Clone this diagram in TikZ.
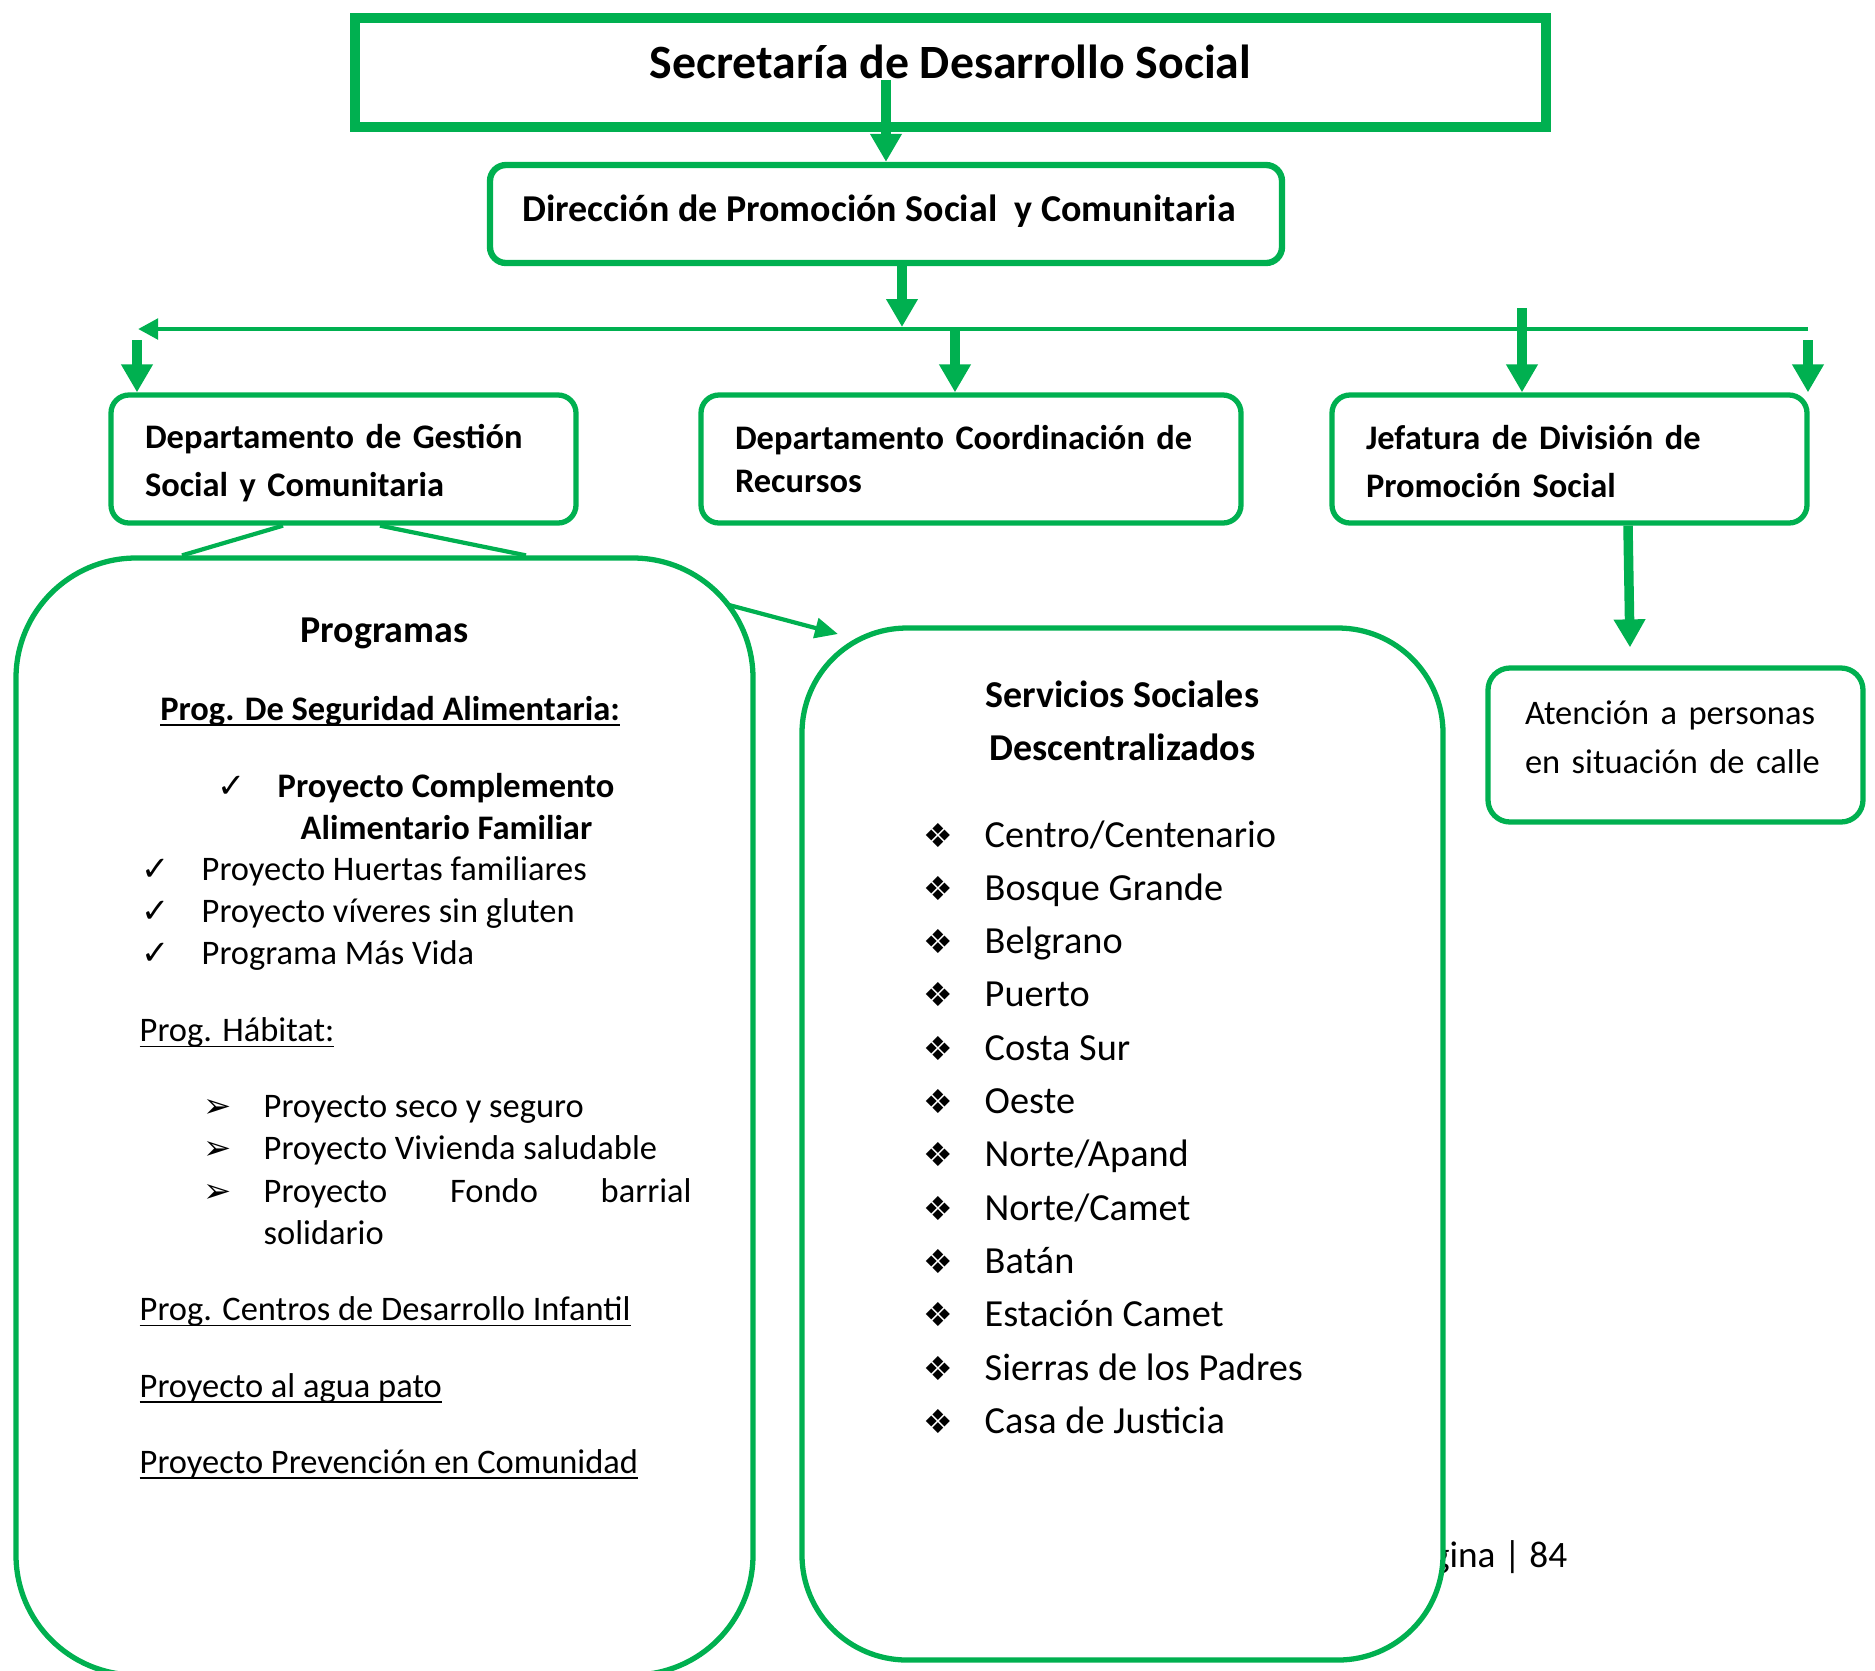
\documentclass[tikz,border=0pt]{standalone}
\usepackage{fontspec}
\setmainfont{Carlito}
\newfontfamily\dingfont{DejaVu Sans}
\usetikzlibrary{arrows.meta}
\definecolor{sdsgreen}{HTML}{00B050}
\newcommand{\fsmall}{\fontsize{9.8}{13.7}\selectfont}
\newcommand{\fbig}{\fontsize{10.8}{15.1}\selectfont}
\newcommand{\undl}[1]{\underline{\smash{#1}}}
\tikzset{
  box/.style={draw=sdsgreen, line width=1.5pt, fill=white},
  deptbox/.style={box, rounded corners=0.18cm, minimum height=1.28cm, inner xsep=0.34cm, align=left, font=\fsmall\bfseries},
  bigbox/.style={box, inner sep=0pt},
  arr/.style={draw=sdsgreen, line width=2.7pt, -{Triangle[length=2.8mm, width=3mm]}},
  busline/.style={draw=sdsgreen, line width=1.4pt, -{Triangle[length=2mm, width=2mm]}},
  link/.style={draw=sdsgreen, line width=1.2pt},
  thinarr/.style={link, -{Triangle[length=2.3mm, width=2mm]}},
  txt/.style={anchor=base west, inner sep=0pt, font=\fsmall},
  chk/.style={anchor=base west, inner sep=0pt, font=\dingfont\fontsize{9.6}{10}\selectfont},
}

\begin{document}
\begin{tikzpicture}
\useasboundingbox (0, 0) rectangle (18.75, -16.70);

\node [anchor=base east, inner sep=0pt, font=\fontsize{10.6}{12}\selectfont] (pagina) at (15.68, -15.67) {Página | 84};

\node [box, line width=2.85pt, minimum width=11.91cm, minimum height=1.09cm, text height=0.33cm, text depth=0.22cm, font=\fontsize{13.6}{16}\selectfont\bfseries] (title) at (9.505, -0.725) {Secretaría de Desarrollo Social};
\node [box, line width=1.8pt, rounded corners=0.16cm, minimum width=7.92cm, minimum height=0.98cm, text height=0.25cm, text depth=0.11cm, font=\fbig\bfseries] (dir) at (8.86, -2.14) {Dirección de Promoción Social\ \ y Comunitaria\hspace*{0.14cm}};

\node [deptbox, minimum width=4.65cm, text width=3.97cm, text depth=0.45cm] (depA) at (3.435, -4.59) {Departamento de Gestión\\Social y Comunitaria};
\node [deptbox, minimum width=5.40cm, text width=4.72cm, font=\fontsize{9.8}{12}\selectfont\bfseries] (depB) at (9.71, -4.59) {Departamento Coordinación de\\Recursos};
\node [deptbox, minimum width=4.75cm, text width=4.07cm, text depth=0.44cm] (depC) at (15.695, -4.59) {Jefatura de División de\\Promoción Social};
\node [box, rounded corners=0.22cm, minimum width=3.75cm, minimum height=1.54cm, text width=3.01cm, inner xsep=0.37cm, align=left, text depth=0.64cm, font=\fsmall] (aten) at (16.755, -7.45) {Atención a personas\\en situación de calle};

\node [bigbox, rounded corners=1.2cm, minimum width=7.37cm, minimum height=11.17cm] (prog) at (3.845, -11.165) {};
\node [bigbox, rounded corners=1.05cm, minimum width=6.41cm, minimum height=10.32cm] (serv) at (11.225, -11.44) {};

% Programas
\node [anchor=base, inner sep=0pt, font=\fbig\bfseries] (progT) at (3.845, -6.42) {Programas};
\node [txt, font=\fsmall\bfseries] (segT) at (1.596, -7.20) {\undl{Prog. De Seguridad Alimentaria:}};
\node [chk] (chk0) at (2.17, -7.97) {✓};
\node [txt, font=\fsmall\bfseries] (compT1) at (2.77, -7.97) {Proyecto Complemento};
\node [txt, font=\fsmall\bfseries] (compT2) at (3.00, -8.39) {Alimentario Familiar};
\foreach \proj [count=\i] in {Proyecto Huertas familiares, Proyecto víveres sin gluten, Programa Más Vida} {
  \node [chk] (chk\i) at (1.41, {-8.38-0.42*\i}) {✓};
  \node [txt] (seg\i) at (2.01, {-8.38-0.42*\i}) {\proj};
}
\node [txt] (habT) at (1.39, -10.415) {\undl{Prog. Hábitat:}};
\foreach \proj [count=\i] in {Proyecto seco y seguro, Proyecto Vivienda saludable, \makebox[4.28cm][s]{Proyecto Fondo barrial}} {
  \node [chk, font=\dingfont\fontsize{9.6}{10}\selectfont] (mark\i) at (2.03, {-10.745-0.425*\i}) {➢};
  \node [txt] (hab\i) at (2.63, {-10.745-0.425*\i}) {\proj};
}
\node [txt] (hab4) at (2.63, -12.445) {solidario};
\node [txt] (cdiT) at (1.39, -13.207) {\undl{Prog. Centros de Desarrollo Infantil}};
\node [txt] (patoT) at (1.39, -13.97) {\undl{Proyecto al agua pato}};
\node [txt] (prevT) at (1.39, -14.73) {\undl{Proyecto Prevención en Comunidad}};

% Servicios
\node [anchor=base, inner sep=0pt, font=\fbig\bfseries] (servT1) at (11.225, -7.07) {Servicios Sociales};
\node [anchor=base, inner sep=0pt, font=\fbig\bfseries] (servT2) at (11.225, -7.60) {Descentralizados};
\foreach \zona [count=\i from 0] in {Centro/Centenario, Bosque Grande, Belgrano, Puerto, Costa Sur, Oeste, Norte/Apand, Norte/Camet, Batán, Estación Camet, Sierras de los Padres, Casa de Justicia} {
  \node [anchor=base, inner sep=0pt, font=\dingfont\fontsize{9.4}{10}\selectfont] (dia\i) at (9.38, {-8.47-0.533*\i}) {❖};
  \node [txt, font=\fontsize{10.9}{13}\selectfont] (zona\i) at (9.84, {-8.47-0.533*\i}) {\zona};
}

\coordinate (titleOut) at (8.86, -0.80);
\coordinate (busL) at (1.38, -3.29);
\coordinate (busR) at (18.08, -3.29);
\coordinate (busM) at (9.02, -3.27);
\coordinate (dropA) at (1.37, -3.40);
\coordinate (dropB) at (9.55, -3.31);
\coordinate (dropC) at (15.22, -3.08);
\coordinate (dropD) at (18.08, -3.40);
\coordinate (progOut) at (7.29, -6.05);
\coordinate (servIn) at (8.38, -6.34);

\draw [arr] (titleOut) -- (titleOut |- dir.north);
\draw [arr] (busM |- dir.south) -- (busM);
\draw [busline] (busR) -- (busL);
\draw [arr] (dropA) -- (dropA |- depA.north);
\draw [arr] (dropB) -- (dropB |- depB.north);
\draw [arr] (dropC) -- (dropC |- depC.north);
\draw [arr] (dropD) -- (dropD |- depC.north);
\draw [arr] ([xshift=5.85mm]depC.south) -- ([xshift=-4.55mm, yshift=1.8mm]aten.north);
\draw [link] ([xshift=-6.05mm]depA.south) -- ([xshift=-20.25mm]prog.north);
\draw [link] ([xshift=3.65mm]depA.south) -- ([xshift=14.15mm]prog.north);
\draw [thinarr] (progOut) -- (servIn);
\end{tikzpicture}
\end{document}
